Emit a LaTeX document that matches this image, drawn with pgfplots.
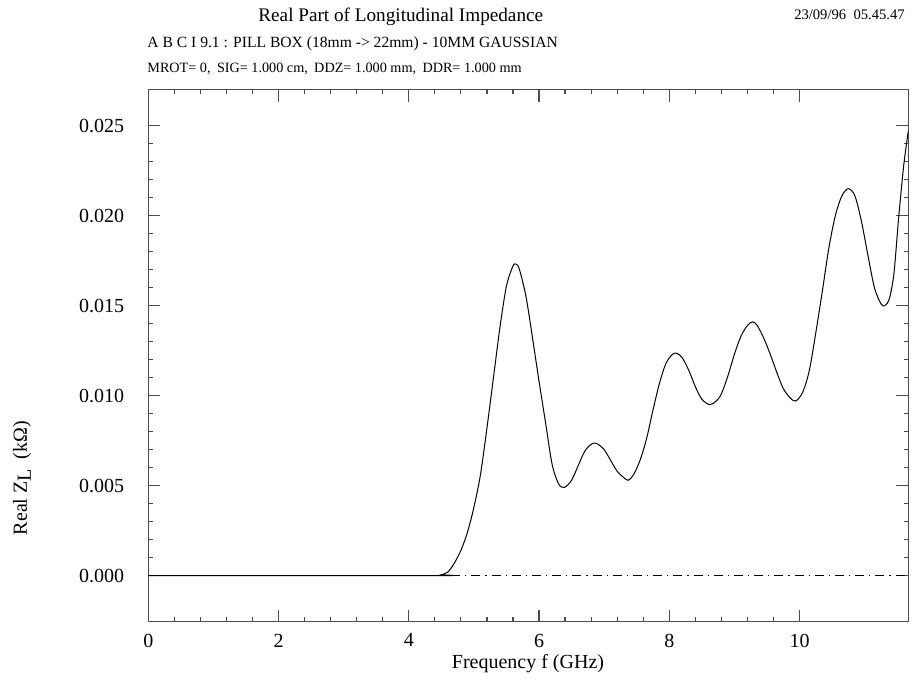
\documentclass[border=0pt]{standalone}
\usepackage{fontspec}
\setmainfont{Liberation Serif}
\usepackage{pgfplots}
\pgfplotsset{compat=1.18}

\begin{document}
\begin{tikzpicture}
\useasboundingbox (-74.15pt,-31.65pt) rectangle (387.35pt,310.85pt);
\begin{axis}[
  scale only axis, width=380pt, height=266pt,
  xmin=0, xmax=11.67, ymin=-0.00256, ymax=0.0270,
  axis line style={black!70, line width=0.6pt},
  tick style={black!70, line width=0.6pt},
  tick align=inside,
  major tick length=6pt, minor tick length=2.3pt,
  xtick={0,2,4,6,8,10}, xticklabels={0,2,4,6,8,10},
  ytick={0,0.005,0.010,0.015,0.020,0.025},
  yticklabels={0.000,0.005,0.010,0.015,0.020,0.025},
  scaled y ticks=false,
  minor x tick num=4, minor y tick num=4,
  tick label style={font=\fontsize{10}{12}\selectfont, text=black},
  xticklabel style={yshift=-2.5pt},
  yticklabel style={xshift=-8.5pt},
  clip=true,
]
% reference level at zero
\addplot[black, line width=0.4pt, dash pattern=on 4.5pt off 2.5pt on 0.6pt off 2.5pt]
  coordinates {(0,0) (11.67,0)};
% real part of the longitudinal impedance
\addplot[black, line width=0.5pt, smooth, tension=0.5] coordinates {
(0,0) (4.40,0) (4.50,0.00005) (4.60,0.0002) (4.70,0.0007) (4.80,0.0014)
(4.90,0.0024) (5.00,0.0038) (5.10,0.0056) (5.20,0.0082) (5.30,0.0110)
(5.40,0.0138) (5.50,0.0161) (5.60,0.0172) (5.65,0.0173) (5.70,0.0170)
(5.80,0.0155) (5.90,0.0132) (6.00,0.0108) (6.10,0.0085) (6.20,0.0062)
(6.30,0.0051) (6.39,0.0049) (6.50,0.0053) (6.60,0.0061) (6.70,0.0069)
(6.80,0.0073) (6.88,0.00735) (7.00,0.0070) (7.10,0.0064) (7.20,0.0058)
(7.30,0.00545) (7.37,0.0053) (7.45,0.0056) (7.55,0.0064) (7.65,0.0076)
(7.75,0.0092) (7.85,0.0107) (7.95,0.0118) (8.05,0.0123) (8.12,0.01235)
(8.20,0.0121) (8.30,0.0114) (8.40,0.0105) (8.50,0.0098) (8.62,0.0095)
(8.72,0.0097) (8.80,0.0101) (8.90,0.0111) (9.00,0.0123) (9.10,0.0133)
(9.20,0.0139) (9.28,0.0141) (9.35,0.0139) (9.45,0.0132) (9.55,0.0123)
(9.65,0.0113) (9.75,0.0104) (9.85,0.0099) (9.94,0.0097) (10.05,0.0102)
(10.15,0.0114) (10.25,0.0135) (10.35,0.0158) (10.45,0.0182) (10.55,0.0200)
(10.65,0.0211) (10.75,0.0215) (10.85,0.0211) (10.95,0.0197) (11.05,0.0178)
(11.15,0.0160) (11.25,0.0151) (11.31,0.0150) (11.38,0.0154) (11.45,0.0168)
(11.52,0.0198) (11.60,0.0228) (11.67,0.0247)
};
\end{axis}
% headings
\node[anchor=base west, inner sep=0pt, font=\fontsize{9.6}{11}\selectfont]
  at (54.85pt,300.1pt) {Real Part of Longitudinal Impedance};
\node[anchor=base east, inner sep=0pt, font=\fontsize{7.3}{9}\selectfont]
  at (378.35pt,300.85pt) {23/09/96\ \ 05.45.47};
\node[anchor=base west, inner sep=0pt, font=\fontsize{7.8}{9}\selectfont]
  at (-0.65pt,286.85pt) {A B C I 9.1 : PILL BOX (18mm -> 22mm) - 10MM GAUSSIAN};
\node[anchor=base west, inner sep=0pt, font=\fontsize{7.1}{9}\selectfont]
  at (-0.65pt,274.35pt) {MROT= 0,\hspace{0.45em}SIG= 1.000 cm,\hspace{0.45em}DDZ= 1.000 mm,\hspace{0.45em}DDR= 1.000 mm};
% axis titles
\node[anchor=base, inner sep=0pt, font=\fontsize{10}{12}\selectfont]
  at (189.85pt,-23.65pt) {Frequency f (GHz)};
\node[rotate=90, inner sep=0pt, font=\fontsize{10}{12}\selectfont]
  at (-63.15pt,71.85pt) {Real Z\raisebox{-0.45ex}{L}\ \ (kΩ)};
\end{tikzpicture}
\end{document}
